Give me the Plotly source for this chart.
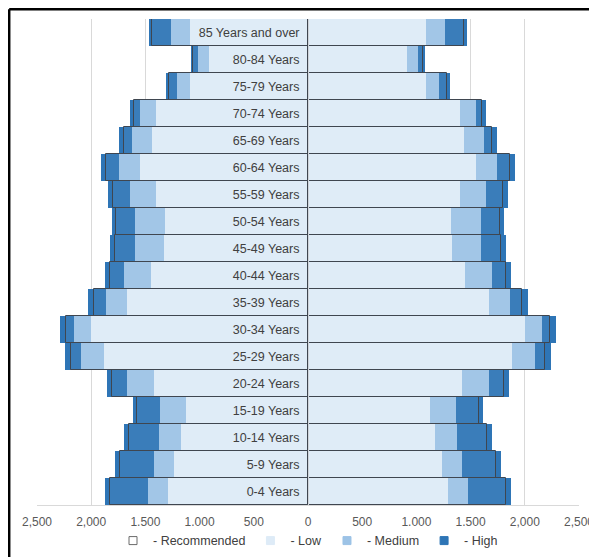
import plotly.graph_objects as go

age_groups = ["85 Years and over", "80-84 Years", "75-79 Years", "70-74 Years",
              "65-69 Years", "60-64 Years", "55-59 Years", "50-54 Years",
              "45-49 Years", "40-44 Years", "35-39 Years", "30-34 Years",
              "25-29 Years", "20-24 Years", "15-19 Years", "10-14 Years",
              "5-9 Years", "0-4 Years"]
low = [1090, 915, 1090, 1406, 1435, 1552, 1398, 1323, 1330, 1447, 1670, 2000,
       1882, 1417, 1126, 1173, 1240, 1296]
medium = [175, 97, 123, 142, 185, 196, 240, 276, 269, 249, 192, 162,
          211, 251, 242, 201, 182, 178]
high = [203, 71, 99, 97, 124, 162, 203, 212, 224, 180, 166, 130,
        148, 187, 243, 319, 355, 397]
recommended = [1435, 1058, 1278, 1603, 1697, 1860, 1797, 1768, 1777, 1830, 1976,
               2230, 2186, 1810, 1573, 1651, 1733, 1825]
tick_values = [-2500, -2000, -1500, -1000, -500, 0, 500, 1000, 1500, 2000, 2500]

series_names = ["- Recommended", "- Low", "- Medium", "- High"]
series_colors = ["#FFFFFF", "#DEEBF7", "#9DC3E6", "#2E75B6"]


def mirror(vals):
    return [-v for v in vals] + list(vals)


ys = age_groups + age_groups
zeros = [0] * len(age_groups)
base_med = low
base_high = [a + b for a, b in zip(low, medium)]

fig = go.Figure()
fig.add_trace(go.Bar(y=ys, x=mirror(low), base=mirror(zeros), orientation="h",
                     name=series_names[1], legendgroup="low", showlegend=False,
                     marker=dict(color=series_colors[1], line=dict(width=0)), width=1))
fig.add_trace(go.Bar(y=ys, x=mirror(medium), base=mirror(base_med), orientation="h",
                     name=series_names[2], legendgroup="med", showlegend=False,
                     marker=dict(color=series_colors[2], line=dict(width=0)), width=1))
fig.add_trace(go.Bar(y=ys, x=mirror(high), base=mirror(base_high), orientation="h",
                     name=series_names[3], legendgroup="high", showlegend=False,
                     marker=dict(color=series_colors[3], line=dict(width=0)), width=1))
fig.add_trace(go.Bar(y=ys, x=mirror(recommended), base=mirror(zeros), orientation="h",
                     name=series_names[0], legendgroup="rec", showlegend=False,
                     marker=dict(color="rgba(255,255,255,0.06)",
                                 line=dict(color="#3F4650", width=1)), width=1))

# legend entries with small square keys, as in the reference
for name, col, grp, rank in zip(series_names, series_colors,
                                ["rec", "low", "med", "high"], [1, 2, 3, 4]):
    fig.add_trace(go.Scatter(
        x=[None], y=[None], mode="markers", name=name, legendgroup=grp,
        legendrank=rank, hoverinfo="skip",
        marker=dict(symbol="square", size=8, color=col,
                    line=dict(color="#6B6B6B" if grp == "rec" else col, width=1))))

# the page adds an 8px body margin, so the figure is drawn 8px right/down
fig.update_layout(
    width=589, height=549,
    margin=dict(l=29, r=18, t=11, b=52, autoexpand=False),
    paper_bgcolor="white", plot_bgcolor="white",
    barmode="overlay", bargap=0,
    font=dict(family="Liberation Sans, Arial, sans-serif", color="#404040"),
    showlegend=True,
    legend=dict(orientation="h", x=0.5, xanchor="center", y=-0.074, yanchor="middle",
                font=dict(size=12.5, color="#404040"), traceorder="normal",
                itemwidth=30, itemsizing="trace"),
    xaxis=dict(range=[-2500, 2500], tickvals=tick_values,
               ticktext=[f"{abs(v):,}" for v in tick_values],
               showgrid=True, gridcolor="#D9D9D9", gridwidth=1, zeroline=False,
               showline=True, linecolor="#D9D9D9", linewidth=1, ticks="",
               ticklabelstandoff=6,
               tickfont=dict(size=12, color="#595959"), fixedrange=True),
    yaxis=dict(anchor="free", position=0.5, autorange="reversed",
               showgrid=False, zeroline=False, showline=True, linecolor="#D0D4D9",
               linewidth=1, ticks="", ticklabelstandoff=6,
               tickfont=dict(size=12.5, color="#404040"), fixedrange=True),
)

# outer frame (top and left black edges)
fig.add_shape(type="line", xref="paper", yref="paper", x0=-0.0513, x1=1.04,
              y0=1.0202, y1=1.0202, line=dict(color="black", width=2.5))
fig.add_shape(type="line", xref="paper", yref="paper", x0=-0.0513, x1=-0.0513,
              y0=1.0202, y1=-0.12, line=dict(color="black", width=2.5))

fig.write_html("out.html")
